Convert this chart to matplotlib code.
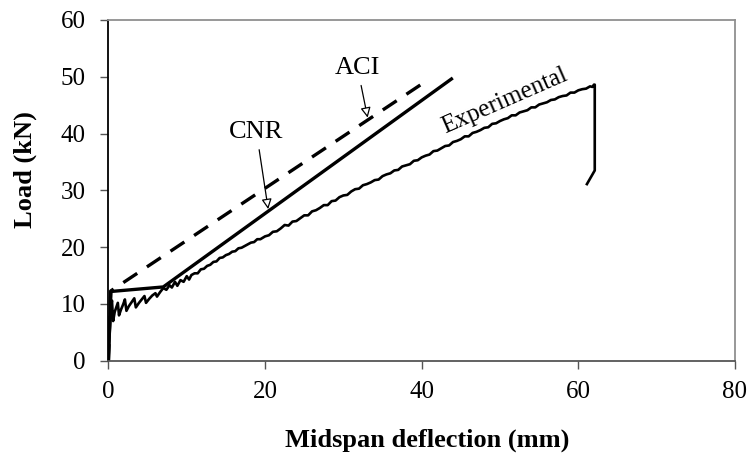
import matplotlib.pyplot as plt

plt.rcParams['font.family'] = ['Liberation Serif', 'DejaVu Serif']

# experimental load-deflection record
exp_x = [0.0, 0.15, 0.3, 0.45, 0.6, 0.8, 1.0, 1.2, 1.35, 1.6, 1.9, 2.1, 2.3, 2.6, 3.0, 3.3, 3.5, 3.9,
         4.3, 4.6, 4.8, 5.2, 5.6, 6.0, 6.2, 6.6, 7.0, 7.4, 7.8, 8.1, 8.5, 8.8, 9.2, 9.6,
         10.0, 10.3, 10.6, 11.0, 11.4, 11.8, 12.2, 12.6, 13.0, 13.4, 13.8, 14.2, 14.6, 15.0, 15.4,
         15.8, 16.2, 16.6, 17.0, 17.4, 17.8, 18.2, 18.6, 19.0, 19.4,
         20.0, 20.5, 21.0, 21.5, 22.0, 22.5, 23.0, 23.5, 24.0, 24.5, 25.0, 25.5, 26.0, 26.5, 27.0,
         27.5, 28.0, 28.5, 29.0, 29.5, 30.0, 30.5, 31.0, 31.5, 32.0, 32.5, 33.0, 33.5, 34.0, 34.5,
         35.0, 35.5, 36.0, 36.5, 37.0, 37.5, 38.0, 38.5, 39.0, 39.5, 40.0, 40.5, 41.0, 41.5, 42.0,
         42.5, 43.0, 43.5, 44.0, 44.5, 45.0, 45.5, 46.0, 46.5, 47.0, 47.5, 48.0, 48.5, 49.0, 49.5,
         50.0, 50.5, 51.0, 51.5, 52.0, 52.5, 53.0, 53.5, 54.0, 54.5, 55.0, 55.5, 56.0, 56.5, 57.0,
         57.5, 58.0, 58.5, 59.0, 59.5, 60.0, 60.5, 61.0, 61.5, 61.8, 62.0, 62.1, 62.1, 61.1]
exp_y = [0.0, 5.0, 9.0, 10.6, 7.0, 8.6, 9.4, 10.2, 8.0, 9.0, 10.0, 10.8, 8.8, 9.6, 10.4, 11.0, 9.4, 10.2,
         10.9, 11.4, 10.2, 10.9, 11.5, 11.9, 11.3, 12.1, 12.8, 12.5, 13.3, 12.9, 13.9, 13.2, 14.2, 13.9,
         14.9, 14.3, 15.1, 15.4, 15.4, 16.1, 16.2, 16.7, 16.9, 17.4, 17.5, 18.1, 18.2, 18.6, 18.8,
         19.2, 19.3, 19.8, 19.9, 20.2, 20.5, 20.8, 20.9, 21.4, 21.4,
         21.9, 22.1, 22.7, 22.8, 23.3, 23.9, 23.8, 24.5, 24.6, 25.1, 25.6, 25.6, 26.3, 26.5, 26.9,
         27.4, 27.4, 28.1, 28.2, 28.8, 29.1, 29.2, 29.8, 30.2, 30.3, 30.9, 31.1, 31.4, 31.8, 31.9,
         32.5, 32.8, 33.0, 33.5, 33.6, 34.2, 34.4, 34.6, 35.2, 35.3, 35.8, 36.1, 36.3, 36.9, 37.0,
         37.4, 37.8, 37.9, 38.5, 38.7, 39.0, 39.5, 39.5, 40.1, 40.3, 40.6, 41.0, 41.1, 41.7, 41.8,
         42.2, 42.5, 42.7, 43.2, 43.2, 43.7, 43.9, 44.1, 44.6, 44.6, 45.1, 45.3, 45.5, 45.9, 46.0,
         46.4, 46.6, 46.7, 47.2, 47.2, 47.6, 47.8, 47.9, 48.3, 48.2, 48.6, 48.6, 33.5, 31.1]

# CNR prediction
cnr_x = [0.0, 0.3, 7.0, 43.8]
cnr_y = [0.0, 12.2, 13.0, 49.6]

# ACI prediction
aci_x = [0.0, 0.3, 40.0]
aci_y = [0.0, 12.3, 48.7]

fig = plt.figure(figsize=(7.53, 4.62), dpi=100)
ax = fig.add_axes([0.144, 0.219, 0.832, 0.738])

ax.plot(exp_x, exp_y, color='black', lw=1.9)
ax.plot(aci_x, aci_y, color='black', lw=2.4, dashes=(5, 3.5))
ax.plot(cnr_x, cnr_y, color='black', lw=2.4)

arrow = dict(arrowstyle='-|>', fc='white', ec='black', lw=0.9, mutation_scale=15, shrinkA=3, shrinkB=0)
ax.annotate('CNR', xy=(20.4, 26.7), xytext=(18.9, 40.3), fontsize=19,
            ha='center', va='center', arrowprops=arrow)
ax.annotate('ACI', xy=(33.1, 42.8), xytext=(31.8, 51.6), fontsize=19,
            ha='center', va='center', arrowprops=arrow)
ax.text(50.6, 45.8, 'Experimental', fontsize=18, rotation=23.6, ha='center', va='center',
        rotation_mode='anchor')

ax.set_xlim(0, 80)
ax.set_ylim(0, 60)
ax.set_xticks(range(0, 81, 20))
ax.set_yticks(range(0, 61, 10))
ax.tick_params(labelsize=18, length=5.5, width=1, color='#555555')
ax.tick_params(axis='x', pad=9)
ax.tick_params(axis='y', pad=11)

ax.spines['left'].set_color('black')
ax.spines['bottom'].set_color('#555555')
ax.spines['top'].set_color('#909090')
ax.spines['right'].set_color('#909090')
for s in ax.spines.values():
    s.set_linewidth(1.3)

fig.text(0.567, 0.048, 'Midspan deflection (mm)', fontsize=19, fontweight='bold',
         ha='center', va='center')
fig.text(0.033, 0.632, 'Load (kN)', fontsize=19, fontweight='bold', rotation=90,
         ha='center', va='center')

fig.savefig('out.png', dpi=100)
